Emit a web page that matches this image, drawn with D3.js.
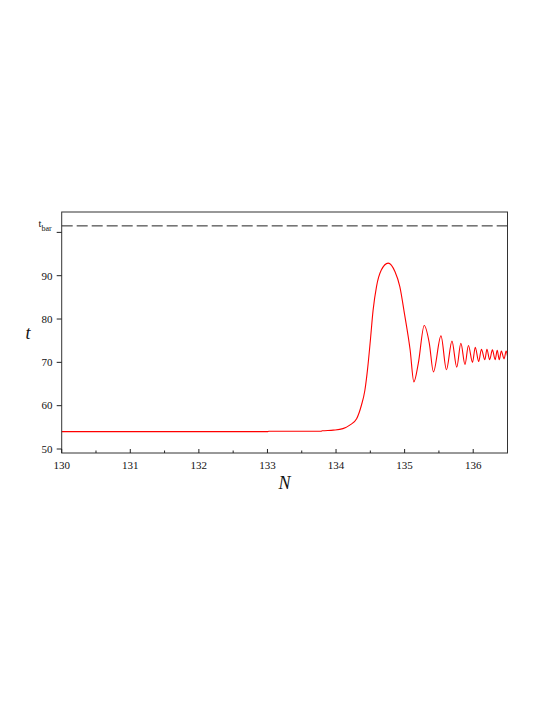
<!DOCTYPE html>
<html><head><meta charset="utf-8">
<script src="https://cdn.jsdelivr.net/npm/d3@7"></script>
<style>body{margin:0;background:#fff}svg{display:block}</style>
</head><body>
<script>
const xTicks = [130,131,132,133,134,135,136];
const xMinor = [130.5,131.5,132.5,133.5,134.5,135.5];
const yTicks = [50,60,70,80,90,100];
const yLabels = ["50","60","70","80","90",""];
const tBar = 101.5;
const curveN = [130,131,132,133,133.02,133.5,133.78,133.8,133.96,134.1,134.2,134.3,134.37,134.42,134.46,134.5,134.54,134.59,134.66,134.76,134.86,134.93,135.0,135.08,135.135,135.2,135.286,135.36,135.42,135.53,135.61,135.69,135.76,135.82,135.88,135.93,135.99,136.03,136.08,136.12,136.17,136.2,136.24,136.28,136.32,136.35,136.38,136.41,136.45,136.48,136.5];
const curveT = [54.0,54.0,54.0,54.0,54.1,54.1,54.1,54.2,54.35,54.7,55.5,57.0,60.1,63.5,68.5,75,82,87.5,91.3,92.9,90.9,87.5,81,72.9,65.5,69.8,78.5,74.4,67.8,76.1,68.3,74.9,68.9,74.4,69.5,73.9,70,73.5,70.2,73.0,70.6,73.0,70.6,72.9,70.6,72.8,70.6,72.6,70.8,72.6,71.5];

const W=545,H=705;
const svg=d3.select("body").append("svg").attr("width",W).attr("height",H);
const x=d3.scaleLinear().domain([130,136.5]).range([61.7,507.5]);
const y=d3.scaleLinear().domain([50,90]).range([449,275.7]);
const plotTop=212,plotBottom=453;
const font="'Liberation Serif', 'Times New Roman', serif";

// dashed t_bar line
svg.append("line").attr("x1",x(130)).attr("x2",x(136.5)).attr("y1",y(tBar)).attr("y2",y(tBar))
  .attr("stroke","#222").attr("stroke-width",1).attr("stroke-dasharray","11,4");

// curve
const line=d3.line().x((d,i)=>x(curveN[i])).y((d,i)=>y(curveT[i])).curve(d3.curveMonotoneX);
svg.append("path").datum(curveN).attr("d",line).attr("fill","none").attr("stroke","#ff0000").attr("stroke-width",1.1);

// frame
svg.append("rect").attr("x",x(130)).attr("y",plotTop).attr("width",x(136.5)-x(130)).attr("height",plotBottom-plotTop)
  .attr("fill","none").attr("stroke","#333").attr("stroke-width",1);

// x axis ticks (inward)
const gx=svg.append("g");
gx.selectAll("line.maj").data(xTicks).join("line").attr("class","maj").attr("x1",d=>x(d)).attr("x2",d=>x(d)).attr("y1",plotBottom).attr("y2",plotBottom-4).attr("stroke","#222");
gx.selectAll("line.min").data(xMinor).join("line").attr("class","min").attr("x1",d=>x(d)).attr("x2",d=>x(d)).attr("y1",plotBottom).attr("y2",plotBottom-2.5).attr("stroke","#222");
gx.selectAll("text").data(xTicks).join("text").attr("x",d=>x(d)).attr("y",469).attr("text-anchor","middle")
  .attr("font-family",font).attr("font-size",11).attr("fill","#111").text(d=>d);

// y axis ticks (outward)
const gy=svg.append("g");
gy.selectAll("line").data(yTicks).join("line").attr("x1",x(130)).attr("x2",x(130)-5).attr("y1",d=>y(d)).attr("y2",d=>y(d)).attr("stroke","#222");
gy.selectAll("text").data(yTicks).join("text").attr("x",52.5).attr("y",d=>y(d)+3.8).attr("text-anchor","end")
  .attr("font-family",font).attr("font-size",11).attr("fill","#111").text((d,i)=>yLabels[i]);

// t_bar label
const tb=svg.append("text").attr("x",38.5).attr("y",227).attr("font-family",font).attr("font-size",10.5).attr("fill","#111");
tb.append("tspan").text("t");
tb.append("tspan").attr("font-size",8).attr("dy",4).text("bar");

// axis titles
svg.append("text").attr("x",284.5).attr("y",489).attr("text-anchor","middle").attr("font-family",font)
  .attr("font-style","italic").attr("font-size",18).attr("fill","#111").text("N");
svg.append("text").attr("x",28).attr("y",339).attr("text-anchor","middle").attr("font-family",font)
  .attr("font-style","italic").attr("font-size",18).attr("fill","#111").text("t");
</script>
</body></html>
